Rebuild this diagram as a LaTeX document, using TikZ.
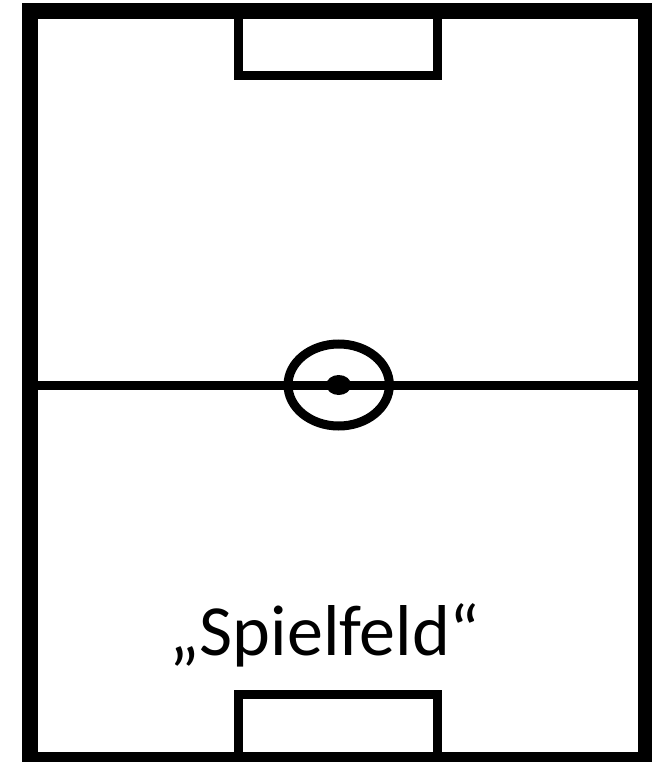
\documentclass[tikz,border=0pt]{standalone}
\usepackage{fontspec}
\setmainfont{Carlito}
\tikzset{
  outline/.style  ={draw, line width=16pt},
  pitchline/.style={draw, line width=9pt},
  spot/.style     ={fill=black},
  lbl/.style      ={font=\fontsize{72}{84}\selectfont, inner sep=0pt},
}

\begin{document}
\begin{tikzpicture}[x=1pt,y=-1pt]
  \useasboundingbox (0,0) rectangle (651,762);
  % field and halfway line
  \draw[outline] (29.5,11.5) rectangle (645.5,760);
  \draw[pitchline] (29.5,385) -- (645.5,385);
  \draw[pitchline] (338.7,385) ellipse [x radius=50.7, y radius=41];
  \path[spot] (338.7,385) ellipse [x radius=12.5, y radius=10];

  % goals
  \draw[pitchline] (238.7,11.5) rectangle (437,76);
  \draw[pitchline] (238.7,694) rectangle (437,760);

  \node[lbl, anchor=base] (title) at (325,655) {„Spielfeld“};
\end{tikzpicture}
\end{document}
